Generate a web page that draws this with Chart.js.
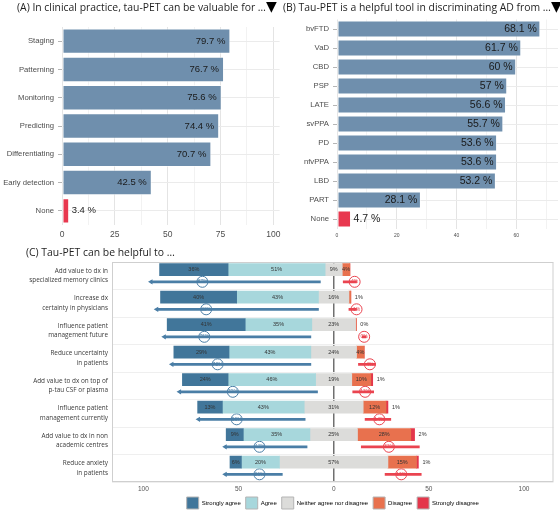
<!DOCTYPE html>
<html>
<head>
<meta charset="utf-8">
<title>tau-PET survey</title>
<script src="https://cdn.jsdelivr.net/npm/chart.js@4.4.1/dist/chart.umd.min.js"></script>
<style>
  body { margin: 0; background: #fff; }
  #page { position: relative; width: 560px; height: 511px; overflow: hidden; }
  canvas { position: absolute; }
  .ttl { position: absolute; white-space: nowrap; color: #1f1f1f; font: 10.4px "Open Sans", sans-serif; line-height: 14px; z-index: 2; }
  .tri { font-family: "DejaVu Sans"; font-size: 14px; color: #000; }
</style>
</head>
<body>
<div id="page">
  <div class="ttl" style="left:17px; top:-1px">(A) In clinical practice, tau-PET can be valuable for …<span class="tri">▼</span></div>
  <div class="ttl" style="left:283px; top:-1px">(B) Tau-PET is a helpful tool in discriminating AD from …<span class="tri">▼</span></div>
  <div class="ttl" style="left:26px; top:245px">(C) Tau-PET can be helpful to …</div>
  <canvas id="chartA" width="285" height="242" style="left:0; top:0"></canvas>
  <canvas id="chartB" width="275" height="242" style="left:285px; top:0"></canvas>
  <canvas id="chartC" width="560" height="273" style="left:0; top:238px"></canvas>
</div>
<script>
// (A) clinical uses
const usesA = ['Staging', 'Patterning', 'Monitoring', 'Predicting', 'Differentiating', 'Early detection', 'None'];
const pctA = [79.7, 76.7, 75.6, 74.4, 70.7, 42.5, 3.4];

// (B) differential diagnoses
const disordersB = ['bvFTD', 'VaD', 'CBD', 'PSP', 'LATE', 'svPPA', 'PD', 'nfvPPA', 'LBD', 'PART', 'None'];
const pctB = [68.1, 61.7, 60, 57, 56.6, 55.7, 53.6, 53.6, 53.2, 28.1, 4.7];

// (C) likert answers, % per statement
const statementsC = [
    ['Add value to dx in', 'specialized memory clinics'],
    ['Increase dx', 'certainty in physicians'],
    ['Influence patient', 'management future'],
    ['Reduce uncertainty', 'in patients'],
    ['Add value to dx on top of', 'p-tau CSF or plasma'],
    ['Influence patient', 'management currently'],
    ['Add value to dx in non', 'academic centres'],
    ['Reduce anxiety', 'in patients']
];
const stronglyAgree = [36, 40, 41, 29, 24, 13, 9, 6];
const agree = [51, 43, 35, 43, 46, 43, 35, 20];
const neutral = [9, 16, 23, 24, 19, 31, 25, 57];
const disagree = [4, 1, 0.4, 4, 10, 12, 28, 15];
const stronglyDisagree = [0, 0, 0, 0, 1, 1, 2, 1];
const agreeTotal = [87, 83, 76, 72, 70, 56, 44, 26];
const disagreeTotal = [4, 1, 0, 4, 11, 14, 31, 16];
// interval lines under each bar (axis units)
const agreeLow = [-96, -93, -89, -85, -81, -71, -57, -57];
const agreeHigh = [-7, -8, -12, -12, -8.5, -15, -14, -27];
const agreeMark = [-69, -67, -68, -61, -53, -51, -39, -39];
const disagreeLow = [5, 8, 15, 13, 10, 16.5, 14.5, 27];
const disagreeHigh = [12, 12, 17, 22, 21, 30, 45, 46];
const disagreeMark = [11, 12, 16, 19, 16.5, 24, 29, 35.5];

const BAR_BLUE = '#6f8fad';
const NONE_RED = '#e8384f';
const LINE_BLUE = '#4a7ea6';
const LINE_RED = '#ea4450';

// value labels for panels A and B
const barText = {
    id: 'barText',
    afterDatasetsDraw(chart, args, opts) {
        const ctx = chart.ctx;
        const vals = chart.data.datasets[0].data;
        ctx.save();
        ctx.font = opts.font;
        ctx.fillStyle = '#1a1a1a';
        ctx.textBaseline = 'middle';
        chart.getDatasetMeta(0).data.forEach((bar, i) => {
            const txt = vals[i] + ' %';
            if (vals[i] > 15) {
                ctx.textAlign = 'right';
                ctx.fillText(txt, bar.x - opts.pad, bar.y);
            } else {
                ctx.textAlign = 'left';
                ctx.fillText(txt, bar.x + 2.5, bar.y);
            }
        });
        ctx.restore();
    }
};

function rankChart(id, labels, values, o) {
    return new Chart(document.getElementById(id), {
        type: 'bar',
        data: {
            labels: labels,
            datasets: [{
                data: values,
                backgroundColor: labels.map(l => l === 'None' ? NONE_RED : BAR_BLUE),
                borderColor: 'rgba(255,255,255,0.6)',
                borderWidth: 1,
                borderSkipped: false,
                barPercentage: 0.9,
                categoryPercentage: 1
            }]
        },
        options: {
            indexAxis: 'y',
            responsive: false,
            animation: false,
            layout: { padding: { top: o.top, right: o.right, left: 0, bottom: 0 } },
            plugins: {
                legend: { display: false },
                tooltip: { enabled: false },
                barText: { font: o.valueFont, pad: o.pad }
            },
            scales: {
                x: {
                    min: 0, max: o.max,
                    border: { display: false },
                    ticks: {
                        stepSize: o.minor, autoSkip: false, includeBounds: false, padding: o.tickPad,
                        color: '#4d4d4d', font: { family: 'Liberation Sans', size: o.tickSize },
                        callback: v => v % o.major === 0 ? v : ''
                    },
                    grid: { drawTicks: false, color: c => c.tick.value % o.major === 0 ? '#e4e4e4' : '#f2f2f2' },
                    afterFit: s => { s.height = o.xh; }
                },
                y: {
                    border: { display: false },
                    ticks: { padding: 4, color: '#4d4d4d', font: { family: 'Liberation Sans', size: o.catSize } },
                    grid: { offset: false, color: '#ebebeb', tickLength: 4, tickColor: '#b5b5b5' },
                    afterFit: s => { s.width = o.left; }
                }
            }
        },
        plugins: [barText]
    });
}

rankChart('chartA', usesA, pctA, {
    top: 27, right: 5, max: 103, minor: 12.5, major: 25, tickSize: 8.5, tickPad: 4.5,
    xh: 17, left: 62, catSize: 7.7, valueFont: '9.5px "Liberation Sans"', pad: 5
});
rankChart('chartB', disordersB, pctB, {
    top: 19.5, right: 2, max: 74, minor: 10, major: 20, tickSize: 5, tickPad: 4,
    xh: 13.5, left: 52, catSize: 7.7, valueFont: '10.5px "Liberation Sans"', pad: 3.5
});

// (C) diverging likert bars
const ROW_SHIFT = 0.22;
const segNames = ['Strongly agree', 'Agree', 'Neither agree nor disagree', 'Disagree', 'Strongly disagree'];
const segColors = ['#41769a', '#a7d7dc', '#dcdcda', '#e8714e', '#e4364b'];
const segValues = [stronglyAgree, agree, neutral, disagree, stronglyDisagree];

const cursor = statementsC.map((s, i) => -(stronglyAgree[i] + agree[i] + neutral[i] / 2));
const segSets = segValues.map((vals, k) => ({
    type: 'bar',
    label: segNames[k],
    backgroundColor: segColors[k],
    barThickness: 12,
    data: vals.map((v, i) => {
        const a = cursor[i];
        cursor[i] += v;
        return { x: [a, a + v], y: i - ROW_SHIFT };
    })
}));

const rangeSet = (lo, hi, color) => ({
    type: 'bar', backgroundColor: color, barThickness: 2,
    data: lo.map((v, i) => ({ x: [v, hi[i]], y: i + ROW_SHIFT }))
});
const markSet = (xs, color) => ({
    type: 'scatter',
    data: xs.map((v, i) => ({ x: v, y: i + ROW_SHIFT })),
    pointStyle: 'circle', pointRadius: 5.5,
    pointBackgroundColor: '#fff', pointBorderColor: color, pointBorderWidth: 1
});
const arrowSet = {
    type: 'scatter',
    data: agreeLow.map((v, i) => ({ x: v, y: i + ROW_SHIFT })),
    pointStyle: 'triangle', pointRadius: 3, pointRotation: -90,
    pointBackgroundColor: LINE_BLUE, pointBorderColor: LINE_BLUE, pointBorderWidth: 0
};

const cSets = segSets.concat([
    rangeSet(agreeLow, agreeHigh, LINE_BLUE),
    rangeSet(disagreeLow, disagreeHigh, LINE_RED),
    arrowSet,
    markSet(agreeMark, LINE_BLUE),
    markSet(disagreeMark, LINE_RED)
]);
const AGREE_MARK = 8, DIS_MARK = 9;

const likertText = {
    id: 'likertText',
    afterDatasetsDraw(chart) {
        const ctx = chart.ctx;
        ctx.save();
        ctx.font = '5.5px "Liberation Sans"';
        ctx.fillStyle = '#333';
        ctx.textBaseline = 'middle';
        for (let k = 0; k < 4; k++) {
            chart.getDatasetMeta(k).data.forEach((bar, i) => {
                const v = segValues[k][i];
                if (v >= 2) {
                    ctx.textAlign = 'center';
                    ctx.fillText(Math.round(v) + '%', (bar.x + bar.base) / 2, bar.y);
                }
            });
        }
        chart.getDatasetMeta(4).data.forEach((bar, i) => {
            let txt = null;
            if (stronglyDisagree[i] > 0) txt = stronglyDisagree[i] + '%';
            else if (disagree[i] < 2) txt = Math.round(disagree[i]) + '%';
            if (txt) {
                ctx.textAlign = 'left';
                ctx.fillText(txt, bar.x + 4, bar.y);
            }
        });
        // totals inside the rings
        ctx.font = '5px "Liberation Sans"';
        ctx.textAlign = 'center';
        [[AGREE_MARK, agreeTotal, LINE_BLUE], [DIS_MARK, disagreeTotal, LINE_RED]].forEach(([d, vals, col]) => {
            ctx.fillStyle = col;
            chart.getDatasetMeta(d).data.forEach((pt, i) => ctx.fillText(vals[i] + '%', pt.x, pt.y));
        });
        ctx.restore();
    },
    afterDraw(chart) {
        const a = chart.chartArea, ctx = chart.ctx;
        ctx.save();
        ctx.strokeStyle = '#cfcfcf';
        ctx.lineWidth = 1;
        ctx.strokeRect(a.left + 0.5, a.top + 0.5, a.right - a.left - 1, a.bottom - a.top - 1);
        ctx.restore();
    }
};

new Chart(document.getElementById('chartC'), {
    type: 'bar',
    data: { datasets: cSets },
    options: {
        indexAxis: 'y',
        responsive: false,
        animation: false,
        grouped: false,
        layout: { padding: { top: 24, right: 5, left: 0, bottom: 0 } },
        plugins: {
            tooltip: { enabled: false },
            legend: {
                position: 'bottom', fullSize: false, maxHeight: 19,
                labels: {
                    boxWidth: 12, boxHeight: 12, padding: 5, color: '#333',
                    font: { family: 'Liberation Sans', size: 6 },
                    generateLabels: () => segNames.map((t, k) => ({
                        text: t, fillStyle: segColors[k], strokeStyle: '#b4b4b4',
                        lineWidth: 1, hidden: false, datasetIndex: k
                    }))
                }
            }
        },
        scales: {
            x: {
                type: 'linear', min: -116.5, max: 115.5,
                border: { display: false },
                ticks: {
                    stepSize: 50, includeBounds: false, autoSkip: false, padding: 3,
                    color: '#555', font: { family: 'Liberation Sans', size: 6.5 },
                    callback: v => Math.abs(v)
                },
                grid: {
                    drawTicks: false,
                    color: c => c.tick.value === 0 ? '#707070' : 'rgba(0,0,0,0)',
                    lineWidth: c => c.tick.value === 0 ? 1.5 : 0
                },
                afterFit: s => { s.height = 10; }
            },
            y: {
                type: 'linear', min: -0.5, max: 7.5, reverse: true, offset: false,
                border: { display: false },
                afterBuildTicks: s => { s.ticks = statementsC.map((_, i) => ({ value: i })); },
                ticks: {
                    autoSkip: false, padding: 4, color: '#3a3a3a',
                    font: { family: 'Open Sans', size: 6.4, lineHeight: 1.45 },
                    callback: v => statementsC[v]
                },
                grid: { offset: true, drawTicks: false, color: '#efefef' },
                afterFit: s => { s.width = 112; }
            }
        }
    },
    plugins: [likertText]
});
</script>
</body>
</html>
